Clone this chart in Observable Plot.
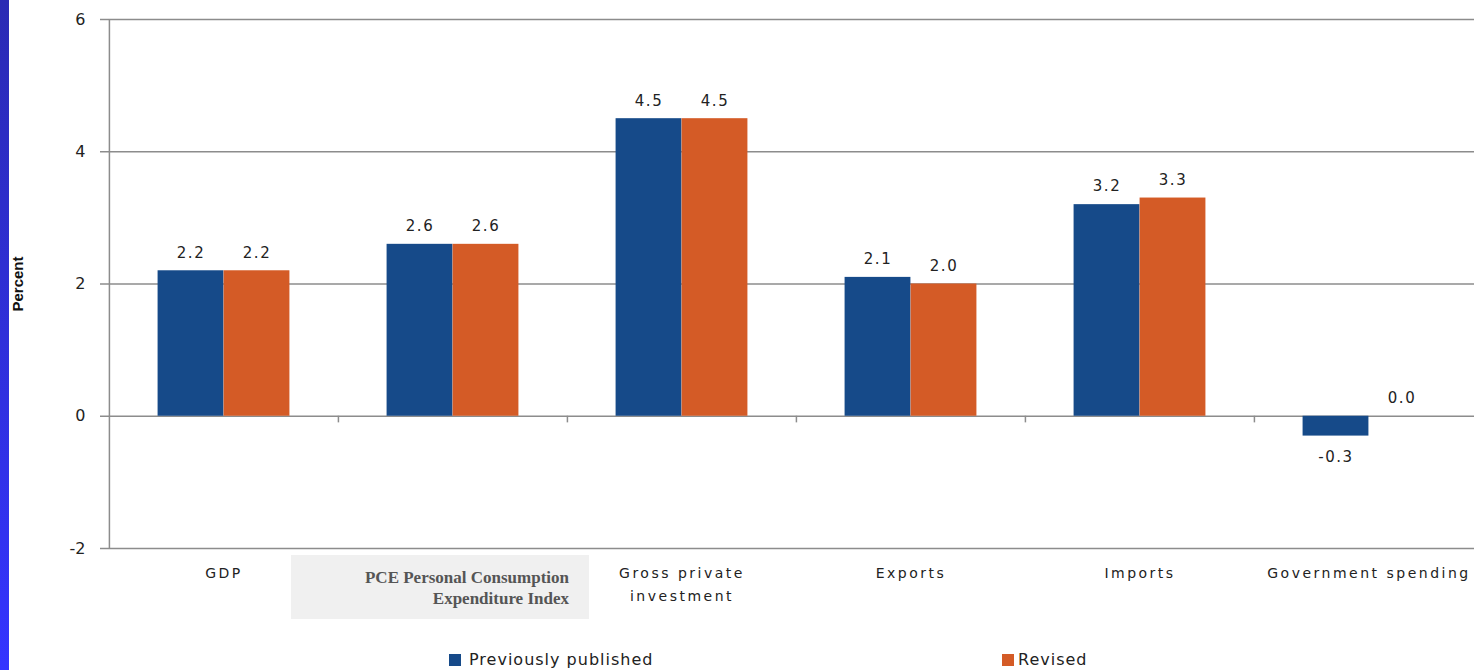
<!DOCTYPE html>
<html>
<head>
<meta charset="utf-8">
<script src="https://cdn.jsdelivr.net/npm/d3@7"></script>
<script src="https://cdn.jsdelivr.net/npm/@observablehq/plot@0.6"></script>
<style>
  html, body { margin: 0; padding: 0; background: #fff; }
  #wrap { position: relative; width: 1474px; height: 670px; overflow: hidden; font-family: "DejaVu Sans", sans-serif; }
  #strip { position: absolute; left: 0; top: 0; width: 9px; height: 670px;
           background: linear-gradient(to bottom, #2a2ab4, #3434ff); }
  #chart { position: absolute; left: 0; top: 0; }
  #chart g[aria-label="x-axis tick label"] text { letter-spacing: 2.5px; }
  #pce { position: absolute; left: 291px; top: 555px; width: 298px; height: 64px; background: #f0f0f0;
         box-sizing: border-box; padding: 12px 20px 0 0; text-align: right;
         font-family: "Liberation Serif", "Times New Roman", serif; font-weight: bold; font-size: 17px;
         line-height: 21px; color: #555; }
  .leg { position: absolute; top: 650px; font-size: 16px; letter-spacing: 1px; color: #222; line-height: 20px; white-space: nowrap; }
  .leg i { display: inline-block; width: 12px; height: 12px; margin-right: 8px; vertical-align: -1px; }
</style>
</head>
<body>
<div id="wrap">
  <div id="strip"></div>
  <div id="chart"></div>
  <div id="pce"></div>
  <div class="leg" id="leg0"></div>
  <div class="leg" id="leg1"></div>
</div>
<script>
// Categories and their axis labels
const categories = ["GDP", "PCE", "Gross private investment", "Exports", "Imports", "Government spending"];
const categoryLabels = ["GDP", "", "Gross private\ninvestment", "Exports", "Imports", "Government spending"];
const pceLabel = ["PCE Personal Consumption", "Expenditure Index"];

// Series
const seriesNames = ["Previously published", "Revised"];
const previouslyPublished = [2.2, 2.6, 4.5, 2.1, 3.2, -0.3];
const revised = [2.2, 2.6, 4.5, 2.0, 3.3, 0.0];
const seriesColors = ["#164a89", "#d45b26"];

const yTicks = [-2, 0, 2, 4, 6];

const rows = categories.flatMap((c, i) => [
  {category: c, series: seriesNames[0], value: previouslyPublished[i]},
  {category: c, series: seriesNames[1], value: revised[i]}
]);
const prev = rows.filter(d => d.series === seriesNames[0]);
const rev = rows.filter(d => d.series === seriesNames[1]);

const W = 1474, H = 640;
const xRange = [108, 1483];
const band = (xRange[1] - xRange[0]) / categories.length;
const half = band / 2;
const barW = 66;
const grid = "#8c8c8c";

const fmt = d => d.value.toFixed(1);
const labelStyle = {x: "category", y: "value", text: fmt, fontSize: 15, fill: "#222"};

// value labels: above positive/zero bars, below negative bars
function valueLabels(data, dx) {
  return [
    Plot.text(data.filter(d => d.value >= 0), {...labelStyle, dx, dy: -18}),
    Plot.text(data.filter(d => d.value < 0), {...labelStyle, dx, dy: 21})
  ];
}

const plot = Plot.plot({
  width: W,
  height: H,
  marginLeft: 108,
  marginRight: 0,
  marginTop: 19,
  marginBottom: H - 548,
  style: {fontFamily: "'DejaVu Sans', sans-serif", color: "#222", background: "transparent"},
  x: {domain: categories, range: xRange, padding: 0, axis: null},
  y: {domain: [-2, 6], axis: null},
  color: {domain: seriesNames, range: seriesColors},
  marks: [
    // horizontal gridlines
    Plot.ruleY(yTicks, {stroke: grid, strokeWidth: 1.5}),
    // value axis line and ticks
    Plot.ruleX([categories[0]], {x: d => d, y1: -2, y2: 6, dx: -half, stroke: grid, strokeWidth: 1.5}),
    Plot.axisY({ticks: yTicks, tickFormat: d => String(d), tickSize: 8, tickPadding: 15, stroke: grid, strokeWidth: 1.5,
                fill: "#222", fontSize: 16, label: null}),
    // category separators below the zero line
    Plot.ruleX(categories.slice(1), {x: d => d, y1: 0, y2: -0.1, dx: -half, stroke: grid, strokeWidth: 1.5}),
    // bars
    Plot.barY(prev, {x: "category", y: "value", fill: "series", insetLeft: half - barW, insetRight: half}),
    Plot.barY(rev, {x: "category", y: "value", fill: "series", insetLeft: half, insetRight: half - barW}),
    // value labels
    ...valueLabels(prev, -barW / 2),
    ...valueLabels(rev, barW / 2),
    // category labels
    Plot.axisX({domain: categories, tickFormat: d => categoryLabels[categories.indexOf(d)], tickSize: 0, tickPadding: 13,
                fontSize: 14, fill: "#222", lineHeight: 1.65, label: null}),
    // y axis title
    Plot.text(["Percent"], {frameAnchor: "left", textAnchor: "middle", dx: -90, rotate: -90, fontSize: 15, fontWeight: "bold",
                fill: "#111", fontFamily: "'Liberation Sans', Arial, sans-serif"})
  ]
});
document.getElementById("chart").appendChild(plot);

// letter spacing on the numeric value labels only
d3.select(plot).selectAll('g[aria-label="text"] text')
  .filter(function() { return /^-?\d/.test(this.textContent); })
  .style("letter-spacing", "1.5px");

// PCE label box
document.getElementById("pce").innerHTML = pceLabel.join("<br>");

// legend
const legPos = [449, 1002];
seriesNames.forEach((s, i) => {
  const el = document.getElementById("leg" + i);
  el.style.left = legPos[i] + "px";
  el.innerHTML = `<i style="background:${seriesColors[i]}"></i>${s}`;
  if (i === 1) el.querySelector("i").style.marginRight = "4px";
});
</script>
</body>
</html>
